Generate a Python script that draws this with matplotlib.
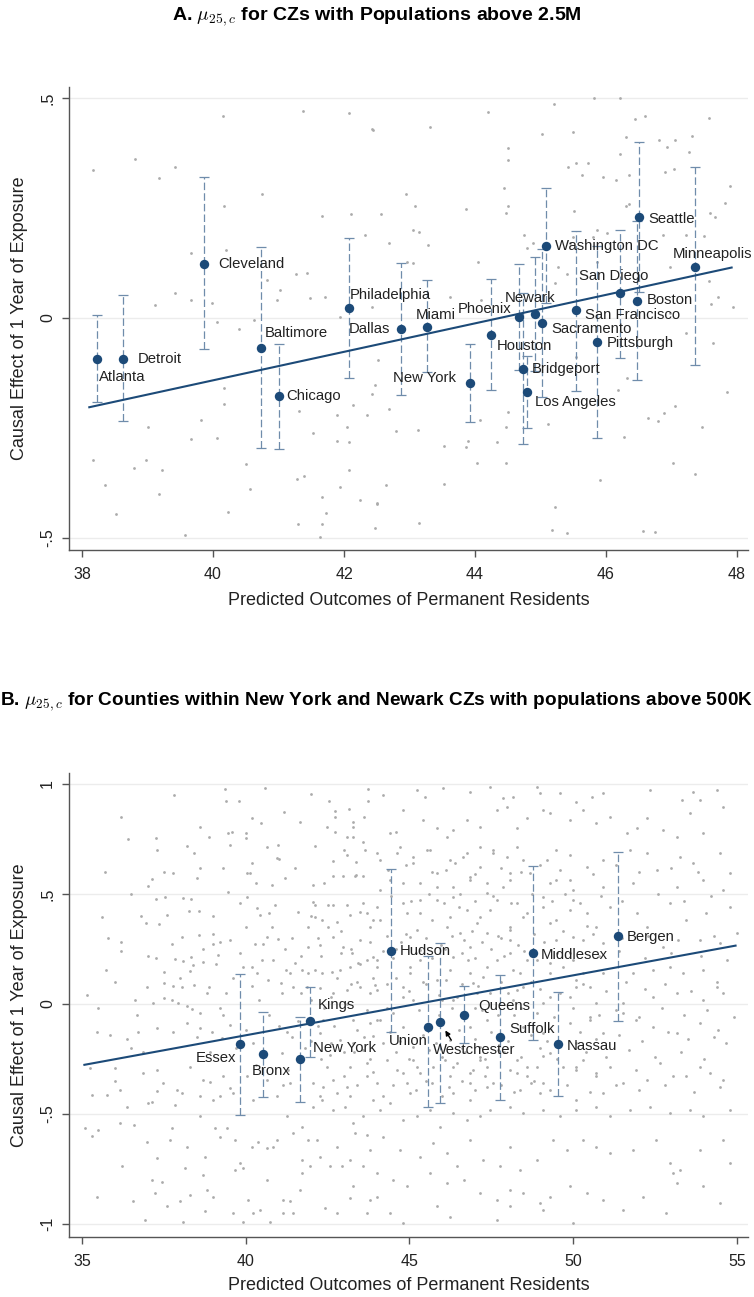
import numpy as np
import matplotlib
matplotlib.use("Agg")
import matplotlib.pyplot as plt

plt.rcParams["font.family"] = ["Liberation Sans", "DejaVu Sans"]
plt.rcParams["mathtext.fontset"] = "cm"

NAVY = "#1c4a78"
BAR = "#6f8cab"
DOT = "#ababab"
SPINE = "#555555"
GRID = "#ececec"
TEXT = "#222222"

# ---- Panel A: commuting zones above 2.5M ----
cz_names = ["Atlanta", "Detroit", "Cleveland", "Baltimore", "Chicago", "Philadelphia",
            "Dallas", "Miami", "New York", "Houston", "Phoenix", "Bridgeport",
            "Los Angeles", "Newark", "Sacramento", "Washington DC", "San Francisco",
            "Pittsburgh", "San Diego", "Boston", "Seattle", "Minneapolis"]
cz_x = [38.23, 38.62, 39.86, 40.73, 41.00, 42.07, 42.87, 43.26, 43.92, 44.24, 44.68, 44.73,
        44.79, 44.91, 45.02, 45.09, 45.54, 45.87, 46.22, 46.48, 46.51, 47.36]
cz_y = [-0.093, -0.093, 0.124, -0.068, -0.178, 0.023, -0.026, -0.020, -0.147, -0.039, 0.002,
        -0.115, -0.169, 0.009, -0.011, 0.165, 0.018, -0.055, 0.056, 0.039, 0.231, 0.117]
cz_lo = [-0.191, -0.234, -0.071, -0.295, -0.298, -0.137, -0.175, -0.122, -0.236, -0.164,
         -0.118, -0.287, -0.251, -0.120, -0.179, 0.035, -0.166, -0.274, -0.092, -0.141,
         0.060, -0.107]
cz_hi = [0.007, 0.052, 0.320, 0.162, -0.060, 0.183, 0.126, 0.086, -0.060, 0.090, 0.122,
         0.057, -0.087, 0.138, 0.157, 0.295, 0.198, 0.164, 0.200, 0.220, 0.400, 0.345]
fit_a_x = [38.11, 47.92]
fit_a_y = [-0.203, 0.115]

bg_a = [
    (40.15, 0.46), (41.37, 0.472), (42.07, 0.466), (42.42, 0.43), (38.16, 0.337), (38.81, 0.362),
    (39.42, 0.343), (39.17, 0.318), (40.75, 0.282), (40.17, 0.254), (41.67, 0.233), (42.10, 0.238),
    (42.32, 0.189), (39.67, 0.149), (40.20, 0.156), (41.26, 0.100), (41.44, 0.103), (40.82, 0.087),
    (41.02, 0.065), (40.97, 0.041), (41.48, 0.045), (41.71, 0.049), (39.42, 0.058), (39.11, 0.030),
    (39.66, 0.040), (39.99, 0.035), (40.06, -0.008), (40.40, -0.024), (40.62, -0.005), (41.94, 0.003),
    (42.42, 0.026), (44.20, 0.470), (45.20, 0.487), (45.82, 0.500), (46.21, 0.500), (43.31, 0.436),
    (42.44, 0.428), (45.03, 0.419), (45.49, 0.424), (46.45, 0.453), (46.60, 0.460), (47.58, 0.455),
    (44.51, 0.387), (44.51, 0.360), (46.31, 0.412), (46.81, 0.405), (47.05, 0.405), (47.32, 0.415),
    (46.93, 0.390), (47.27, 0.379), (46.21, 0.373), (45.42, 0.343), (45.55, 0.354), (45.73, 0.354),
    (45.63, 0.326), (45.96, 0.320), (46.16, 0.314), (46.36, 0.326), (46.90, 0.333), (47.04, 0.339),
    (47.89, 0.300), (42.95, 0.282), (44.45, 0.295), (43.08, 0.255), (43.87, 0.248), (44.48, 0.240),
    (44.51, 0.254), (42.56, 0.238), (45.51, 0.244), (46.30, 0.255), (46.36, 0.260), (47.59, 0.240),
    (47.66, 0.231), (47.82, 0.263), (43.05, 0.200), (43.15, 0.197), (42.69, 0.172), (43.29, 0.166),
    (44.75, 0.189), (44.79, 0.159), (44.89, 0.170), (45.50, 0.185), (45.45, 0.170), (45.80, 0.185),
    (45.87, 0.200), (46.02, 0.193), (46.87, 0.190), (47.23, 0.189), (46.66, 0.170), (47.50, 0.187),
    (44.05, 0.128), (45.27, 0.117), (45.86, 0.127), (46.98, 0.117), (47.58, 0.084), (43.06, 0.126),
    (42.96, 0.128), (45.40, 0.100), (45.22, 0.079), (43.62, 0.049), (44.09, 0.041), (47.71, 0.049),
    (47.61, 0.032), (47.94, 0.026), (46.98, 0.011),
    (38.17, -0.323), (38.35, -0.380), (38.52, -0.446), (38.80, -0.342), (38.97, -0.323),
    (39.22, -0.346), (39.18, -0.400), (39.00, -0.248), (39.57, -0.493), (39.66, -0.276),
    (39.82, -0.232), (40.06, -0.274), (40.17, -0.159), (40.17, -0.196), (40.23, -0.441),
    (40.51, -0.333), (40.56, -0.390), (41.29, -0.468), (41.28, -0.366), (41.39, -0.360),
    (41.53, -0.261), (41.32, -0.211), (41.66, -0.407), (41.73, -0.443), (41.67, -0.468),
    (41.64, -0.498), (41.89, -0.221), (42.04, -0.249), (41.89, -0.279), (42.08, -0.283),
    (42.08, -0.346), (41.94, -0.384), (42.24, -0.415), (42.35, -0.221), (42.42, -0.172),
    (42.50, -0.422), (42.47, -0.479), (42.14, -0.198), (42.68, -0.206), (42.80, -0.257),
    (43.13, -0.255), (42.47, -0.153), (42.52, -0.096), (43.52, -0.292), (43.87, -0.293),
    (43.89, -0.279), (44.03, -0.331), (44.47, -0.331), (43.52, -0.377), (42.64, -0.380),
    (42.51, -0.424), (43.15, -0.466), (44.33, -0.282), (44.48, -0.248), (44.51, -0.213),
    (45.12, -0.242), (45.22, -0.431), (45.17, -0.483), (45.40, -0.490), (45.91, -0.369),
    (46.27, -0.270), (46.65, -0.228), (46.80, -0.234), (46.88, -0.215), (47.05, -0.200),
    (47.46, -0.248), (47.03, -0.331), (47.36, -0.354), (47.85, -0.168), (46.57, -0.485),
    (46.75, -0.487), (46.19, -0.164), (46.32, -0.137), (45.55, -0.088), (45.45, -0.118),
    (47.23, -0.035), (47.64, -0.056), (44.08, -0.232),
]

# ---- Panel B: counties in the New York and Newark CZs ----
county_names = ["Essex", "Bronx", "New York", "Kings", "Hudson", "Union", "Westchester",
                "Queens", "Suffolk", "Middlesex", "Nassau", "Bergen"]
county_x = [39.82, 40.54, 41.66, 41.96, 44.45, 45.58, 45.94, 46.65, 47.78, 48.78, 49.54, 51.36]
county_y = [-0.183, -0.229, -0.250, -0.080, 0.242, -0.103, -0.083, -0.050, -0.152, 0.230,
            -0.182, 0.308]
county_lo = [-0.506, -0.424, -0.444, -0.242, -0.130, -0.467, -0.449, -0.180, -0.436, -0.164,
             -0.421, -0.080]
county_hi = [0.135, -0.035, -0.058, 0.076, 0.614, 0.220, 0.277, 0.080, 0.132, 0.627, 0.055, 0.693]
fit_b_x = [35.07, 54.96]
fit_b_y = [-0.277, 0.265]

bg_b = [
    (39.37, 0.977), (39.40, 0.924), (39.79, 0.924), (41.98, 0.955), (42.55, 0.924), (43.74, 0.977),
    (43.74, 0.924), (41.17, 0.874), (41.66, 0.829), (42.73, 0.879), (42.73, 0.849), (43.16, 0.886),
    (40.18, 0.844), (40.47, 0.821), (38.60, 0.803), (38.89, 0.758), (36.41, 0.749), (37.26, 0.753),
    (37.28, 0.700), (39.45, 0.776), (39.59, 0.783), (40.01, 0.779), (40.01, 0.753), (39.52, 0.723),
    (40.64, 0.715), (40.99, 0.723), (41.02, 0.659), (42.47, 0.803), (42.73, 0.783), (43.08, 0.761),
    (43.27, 0.761), (43.28, 0.803), (43.28, 0.829), (42.67, 0.650), (43.08, 0.677), (43.37, 0.647),
    (43.64, 0.700), (43.59, 0.738), (38.43, 0.685), (40.18, 0.642), (40.03, 0.597), (40.13, 0.597),
    (37.79, 0.594), (38.52, 0.571), (37.02, 0.538), (37.13, 0.567), (35.60, 0.394), (37.25, 0.476),
    (37.53, 0.485), (38.09, 0.480), (38.32, 0.476), (36.95, 0.367), (37.36, 0.364), (37.59, 0.405),
    (38.28, 0.424), (38.58, 0.424), (39.47, 0.510), (39.82, 0.458), (40.03, 0.488), (40.33, 0.435),
    (40.44, 0.405), (40.72, 0.412), (40.79, 0.541), (41.20, 0.571), (40.95, 0.662), (42.11, 0.450),
    (42.32, 0.382), (42.65, 0.450), (43.08, 0.450), (43.37, 0.586), (43.59, 0.458), (42.67, 0.582),
    (42.98, 0.582), (43.34, 0.582), (43.59, 0.582), (42.06, 0.541), (42.06, 0.465), (35.14, 0.041),
    (35.50, -0.017), (35.73, 0.155), (36.18, 0.283), (36.18, 0.241), (36.62, 0.018), (36.69, -0.050),
    (37.16, 0.003), (36.98, 0.079), (37.50, 0.094), (37.26, 0.208), (37.50, 0.147), (37.74, 0.273),
    (37.84, 0.203), (38.07, 0.197), (38.32, 0.212), (38.04, 0.306), (38.58, 0.314), (38.38, 0.177),
    (38.70, 0.192), (39.01, 0.318), (39.21, 0.283), (37.77, 0.082), (38.04, 0.076), (38.42, 0.086),
    (38.89, 0.079), (37.51, 0.029), (37.74, 0.018), (37.94, 0.003), (38.20, -0.009), (38.35, -0.024),
    (38.60, -0.042), (39.01, 0.273), (39.16, 0.223), (39.52, 0.291), (39.82, 0.230), (40.28, 0.273),
    (40.54, 0.273), (40.64, 0.306), (40.99, 0.294), (40.82, 0.200), (41.23, 0.155), (41.35, 0.142),
    (40.18, 0.170), (40.35, 0.139), (40.69, 0.109), (41.08, 0.094), (41.50, 0.185), (41.71, 0.155),
    (41.91, 0.139), (42.11, 0.155), (42.32, 0.139), (42.62, 0.147), (42.88, 0.155), (43.18, 0.170),
    (43.44, 0.185), (43.69, 0.200), (43.90, 0.215), (41.91, 0.260), (42.27, 0.268), (42.67, 0.306),
    (42.98, 0.260), (43.24, 0.230), (43.49, 0.291), (43.79, 0.351), (42.11, 0.397), (42.52, 0.351),
    (42.78, 0.374), (43.18, 0.405), (43.69, 0.412), (43.90, 0.382), (41.45, 0.079), (41.86, 0.079),
    (42.27, 0.071), (42.67, 0.049), (43.08, 0.064), (43.49, 0.079), (43.95, 0.086),
    (35.45, -0.130), (35.85, -0.141), (36.36, -0.160), (36.72, -0.130), (36.87, -0.217),
    (37.28, -0.110), (37.79, -0.126), (38.20, -0.088), (38.60, -0.110), (38.96, -0.126),
    (39.27, -0.156), (39.52, -0.095), (35.24, -0.292), (36.01, -0.292), (36.87, -0.315),
    (37.28, -0.300), (37.48, -0.361), (37.89, -0.391), (38.30, -0.285), (38.70, -0.345),
    (38.91, -0.353), (39.31, -0.330), (39.52, -0.383), (35.30, -0.414), (35.75, -0.414),
    (36.16, -0.391), (36.36, -0.467), (37.13, -0.444), (37.28, -0.398), (37.84, -0.459),
    (38.04, -0.406), (38.60, -0.421), (39.01, -0.436), (39.21, -0.421), (39.62, -0.406),
    (35.09, -0.565), (35.50, -0.573), (36.16, -0.542), (36.97, -0.630), (37.74, -0.565),
    (37.69, -0.618), (38.20, -0.649), (38.60, -0.512), (38.76, -0.694), (39.06, -0.565),
    (39.21, -0.603), (39.42, -0.565), (39.67, -0.618), (39.82, -0.724), (40.18, -0.649),
    (40.38, -0.626), (40.64, -0.656), (40.84, -0.649), (40.95, -0.618), (36.21, -0.736),
    (36.57, -0.898), (37.13, -0.800), (37.23, -0.861), (37.43, -0.808), (37.99, -0.898),
    (38.15, -0.747), (38.30, -0.868), (38.70, -0.777), (38.81, -0.845), (39.67, -0.755),
    (39.93, -0.747), (40.08, -0.891), (35.45, -0.876), (36.92, -0.982), (37.59, -0.918),
    (38.09, -0.990), (38.76, -0.944), (39.01, -0.876), (39.62, -0.951), (39.93, -0.990),
    (40.23, -0.951), (40.44, -0.936), (40.64, -0.800), (41.15, -0.891), (41.35, -0.898),
    (41.45, -0.951), (41.66, -0.845), (41.71, -0.770), (41.71, -0.709), (41.96, -0.739),
    (42.17, -0.618), (42.27, -0.694), (42.57, -0.739), (42.78, -0.649), (42.93, -0.739),
    (43.18, -0.709), (43.28, -0.830), (43.59, -0.739), (43.69, -0.951), (43.79, -0.891),
    (44.00, -0.770), (44.00, -0.876), (40.74, -0.990), (41.15, -0.951), (42.42, -0.929),
    (42.78, -0.951), (43.18, -0.883), (41.25, -0.512), (41.71, -0.558), (42.06, -0.467),
    (42.32, -0.436), (42.67, -0.482), (43.03, -0.467), (43.28, -0.542), (43.59, -0.512),
    (43.90, -0.436), (41.45, -0.588), (41.91, -0.618), (43.34, -0.588), (43.69, -0.595),
    (43.79, -0.664), (40.03, -0.330), (40.64, -0.345), (41.15, -0.368), (41.35, -0.361),
    (42.06, -0.361), (42.37, -0.376), (42.67, -0.345), (43.08, -0.376), (43.39, -0.368),
    (43.69, -0.330), (44.00, -0.361), (40.23, -0.436), (40.95, -0.421), (42.27, -0.421),
    (42.78, -0.406), (43.18, -0.421), (40.23, -0.179), (41.10, -0.224), (42.27, -0.133),
    (42.57, -0.232), (42.88, -0.164), (43.28, -0.179), (43.59, -0.209), (43.90, -0.148),
    (41.25, -0.126), (42.37, -0.073), (43.28, -0.073), (43.79, -0.088), (42.47, -0.285),
    (43.18, -0.285), (43.69, -0.270),
    (44.00, -0.073), (44.20, -0.179), (44.61, -0.300), (44.91, -0.361), (45.12, -0.255),
    (45.32, -0.315), (45.73, -0.285), (46.08, -0.255), (46.24, -0.330), (46.44, -0.270),
    (46.85, -0.361), (46.95, -0.300), (47.15, -0.240), (47.36, -0.285), (47.56, -0.361),
    (48.07, -0.300), (48.27, -0.255), (48.58, -0.330), (48.88, -0.285), (49.09, -0.361),
    (49.29, -0.224), (49.70, -0.285), (50.10, -0.300), (50.31, -0.255), (50.71, -0.330),
    (51.12, -0.285), (51.53, -0.361), (51.93, -0.300), (52.24, -0.345), (52.65, -0.270),
    (53.05, -0.330), (53.46, -0.330), (53.87, -0.285), (54.17, -0.315), (54.58, -0.345),
    (54.68, -0.179), (54.43, -0.118), (53.87, -0.088), (53.16, -0.133), (52.44, -0.103),
    (51.93, -0.073), (51.53, -0.042), (50.92, -0.133), (50.51, -0.073), (50.10, -0.179),
    (44.10, -0.482), (44.40, -0.452), (44.81, -0.527), (45.22, -0.512), (45.63, -0.482),
    (45.93, -0.558), (46.34, -0.497), (46.75, -0.527), (47.15, -0.512), (47.46, -0.482),
    (48.07, -0.467), (48.47, -0.497), (49.09, -0.482), (49.60, -0.512), (50.10, -0.482),
    (50.71, -0.467), (51.12, -0.512), (51.73, -0.482), (52.34, -0.467), (52.95, -0.497),
    (53.56, -0.482), (53.97, -0.512), (54.79, -0.482), (44.20, -0.603), (44.71, -0.664),
    (45.32, -0.694), (45.73, -0.633), (46.14, -0.679), (46.44, -0.739), (46.85, -0.618),
    (47.26, -0.709), (47.77, -0.739), (48.07, -0.649), (48.38, -0.755), (48.88, -0.709),
    (49.39, -0.618), (49.80, -0.664), (50.31, -0.618), (50.71, -0.649), (51.12, -0.679),
    (51.83, -0.664), (52.54, -0.618), (52.95, -0.724), (53.26, -0.755), (53.87, -0.664),
    (54.58, -0.618), (54.79, -0.724), (44.51, -0.800), (44.91, -0.830), (45.63, -0.770),
    (46.14, -0.815), (46.65, -0.800), (47.15, -0.861), (47.66, -0.891), (48.07, -0.845),
    (48.47, -0.861), (48.98, -0.906), (49.29, -0.876), (49.90, -0.830), (50.41, -0.861),
    (50.92, -0.891), (51.53, -0.936), (52.14, -0.876), (52.85, -0.951), (53.05, -0.770),
    (53.16, -0.815), (54.48, -0.906), (53.97, -0.830), (44.40, -0.951), (44.81, -0.997),
    (45.83, -0.921), (46.24, -0.967), (47.66, -0.982), (48.07, -0.921), (49.09, -0.936),
    (50.00, -0.997),
    (45.22, 0.973), (45.47, 0.942), (46.03, 0.980), (46.85, 0.965), (47.46, 0.988), (47.86, 0.935),
    (48.17, 0.942), (48.88, 0.988), (48.98, 0.958), (49.60, 0.958), (50.10, 0.920), (50.56, 0.942),
    (50.92, 0.958), (52.34, 0.973), (53.67, 0.965), (54.38, 0.973), (53.31, 0.927), (53.87, 0.927),
    (44.81, 0.882), (45.42, 0.836), (45.83, 0.798), (46.34, 0.791), (46.75, 0.836), (47.15, 0.806),
    (47.66, 0.882), (47.97, 0.897), (48.58, 0.844), (49.09, 0.882), (49.29, 0.867), (49.90, 0.836),
    (50.31, 0.882), (50.71, 0.821), (51.12, 0.851), (51.63, 0.776), (51.94, 0.798), (52.24, 0.844),
    (52.75, 0.791), (53.16, 0.761), (53.56, 0.867), (53.97, 0.776), (54.58, 0.897), (44.40, 0.776),
    (46.14, 0.761), (48.27, 0.798), (44.00, 0.685), (44.71, 0.715), (45.12, 0.670), (45.63, 0.700),
    (46.24, 0.655), (46.75, 0.685), (47.15, 0.715), (47.56, 0.700), (47.97, 0.670), (48.27, 0.715),
    (48.68, 0.594), (49.19, 0.655), (49.49, 0.700), (49.90, 0.677), (50.41, 0.624), (50.92, 0.655),
    (51.73, 0.700), (52.24, 0.685), (52.55, 0.609), (53.26, 0.670), (53.67, 0.639), (54.48, 0.685),
    (54.79, 0.594), (44.40, 0.564), (45.32, 0.549), (45.83, 0.594), (46.34, 0.533), (46.85, 0.579),
    (47.36, 0.549), (48.07, 0.564), (49.29, 0.549), (49.90, 0.564), (50.92, 0.533), (51.83, 0.549),
    (53.16, 0.533), (53.97, 0.564), (54.58, 0.518), (44.00, 0.442), (44.81, 0.458), (45.32, 0.412),
    (45.83, 0.473), (46.14, 0.351), (46.75, 0.427), (47.15, 0.397), (47.66, 0.473), (48.07, 0.351),
    (48.58, 0.412), (49.09, 0.442), (49.49, 0.382), (50.00, 0.473), (50.41, 0.412), (50.71, 0.351),
    (51.12, 0.442), (51.94, 0.412), (52.24, 0.351), (52.95, 0.458), (53.46, 0.382), (54.07, 0.412),
    (54.79, 0.442), (45.02, 0.306), (46.65, 0.291), (47.36, 0.321), (48.07, 0.291), (49.49, 0.291),
    (50.00, 0.306), (50.92, 0.276), (52.75, 0.260), (53.87, 0.291), (54.48, 0.276), (54.99, 0.321),
    (44.00, 0.170), (45.02, 0.139), (45.32, 0.200), (45.83, 0.109), (46.24, 0.155), (46.85, 0.139),
    (47.26, 0.124), (47.66, 0.200), (48.17, 0.155), (48.47, 0.079), (49.29, 0.139), (49.70, 0.170),
    (50.10, 0.109), (50.51, 0.079), (50.92, 0.139), (51.83, 0.139), (52.44, 0.155), (52.95, 0.170),
    (53.36, 0.139), (53.97, 0.155), (54.38, 0.079), (44.81, 0.033), (46.34, 0.018), (47.05, 0.049),
    (48.17, 0.018), (49.09, 0.003), (49.90, 0.033), (50.71, 0.003), (51.53, 0.003), (52.44, 0.033),
    (53.16, 0.049), (53.97, 0.018), (54.58, 0.049),
    (44.10, 0.655), (44.61, 0.685), (45.12, 0.639), (45.52, 0.700), (46.13, 0.609), (46.64, 0.670),
    (47.15, 0.624), (47.56, 0.685), (48.07, 0.594), (48.48, 0.655), (44.10, 0.518), (44.81, 0.548),
    (45.32, 0.473), (45.83, 0.533), (46.34, 0.488), (46.85, 0.564), (47.36, 0.503), (47.87, 0.533),
    (48.27, 0.458), (49.09, 0.488), (49.49, 0.564), (50.00, 0.518), (44.10, 0.382), (44.91, 0.412),
    (45.22, 0.336), (46.24, 0.397), (46.54, 0.321), (47.05, 0.367), (47.46, 0.427), (48.07, 0.336),
    (48.48, 0.397), (49.29, 0.367), (49.90, 0.427), (50.41, 0.352), (44.00, 0.200), (45.02, 0.170),
    (45.32, 0.245), (46.34, 0.215), (46.85, 0.261), (47.36, 0.170), (48.07, 0.230), (48.37, 0.139),
    (49.29, 0.185), (49.90, 0.230), (50.31, 0.139), (44.00, 0.064), (44.81, 0.079), (45.12, 0.018),
    (46.13, 0.109), (46.44, 0.033), (46.95, 0.094), (47.46, 0.048), (48.27, 0.064), (49.29, 0.033),
    (50.10, 0.079), (44.10, -0.073), (44.81, -0.103), (45.12, -0.194), (46.24, -0.164),
    (46.85, -0.103), (47.15, -0.194), (47.36, -0.073), (48.48, -0.103), (49.09, -0.133),
    (49.90, -0.088), (50.51, -0.058), (44.30, -0.255), (44.81, -0.315), (45.22, -0.285),
    (46.34, -0.285), (46.85, -0.315), (47.15, -0.255), (48.27, -0.315), (48.58, -0.285),
    (49.09, -0.239), (50.10, -0.285), (50.71, -0.315), (44.20, -0.421), (45.02, -0.406),
    (46.34, -0.406), (46.85, -0.436), (47.36, -0.376), (48.37, -0.391), (48.98, -0.406),
    (50.10, -0.436), (50.92, -0.406),
    (41.60, 0.420), (41.90, 0.350), (42.20, 0.300), (42.50, 0.450), (42.90, 0.330), (43.20, 0.250),
    (43.50, 0.420), (43.80, 0.280), (41.70, 0.050), (42.00, 0.020), (42.40, -0.020), (42.80, 0.120),
    (43.10, 0.000), (43.40, 0.100), (43.70, -0.030), (43.90, 0.120), (41.40, -0.150), (41.80, -0.200),
    (42.20, -0.100), (42.60, -0.180), (43.00, -0.220), (43.40, -0.120), (43.80, -0.250),
    (44.30, -0.020), (44.60, 0.250), (44.90, 0.320), (45.40, 0.100), (45.70, 0.380), (46.00, 0.020),
    (46.50, 0.440), (46.80, 0.200), (47.00, -0.020), (47.80, 0.300), (48.20, -0.050), (48.60, 0.200),
    (45.50, -0.350), (46.00, -0.420), (46.60, -0.200), (47.30, -0.330), (47.90, -0.220),
    (48.80, -0.350), (38.80, 0.050), (39.20, -0.020), (39.60, 0.120), (40.00, 0.350), (40.40, 0.020),
    (40.90, 0.450), (41.20, 0.250), (39.00, 0.400), (38.00, 0.120), (37.00, 0.220), (36.50, 0.500),
    (36.00, -0.350), (35.70, 0.600), (35.30, -0.600), (36.20, 0.850), (37.80, 0.950), (38.60, 0.620),
    (40.60, 0.980), (42.10, 0.720), (44.20, 0.950), (44.60, 0.780),
    (44.35, 0.61), (44.90, 0.63), (45.70, 0.60), (46.40, 0.64), (47.00, 0.59), (47.80, 0.62),
    (48.40, 0.60), (49.00, 0.63), (49.60, 0.61), (50.60, 0.59), (51.30, 0.63), (52.00, 0.60),
    (53.00, 0.62), (53.80, 0.60), (44.45, 0.49), (45.05, 0.47), (45.60, 0.50), (46.05, 0.46),
    (46.55, 0.50), (47.00, 0.47), (47.55, 0.49), (48.10, 0.46), (48.75, 0.50), (49.35, 0.47),
    (49.75, 0.50), (50.20, 0.46), (50.85, 0.49), (51.50, 0.47), (52.60, 0.50), (53.40, 0.47),
    (54.20, 0.49), (44.30, 0.31), (44.75, 0.28), (45.50, 0.30), (45.95, 0.27), (46.30, 0.31),
    (46.90, 0.33), (47.20, 0.28), (47.70, 0.31), (48.30, 0.27), (48.80, 0.32), (49.10, 0.28),
    (49.70, 0.33), (50.30, 0.29), (50.60, 0.32), (51.50, 0.30), (52.30, 0.31), (53.20, 0.29),
    (54.30, 0.31), (44.20, 0.24), (44.50, 0.21), (45.20, 0.23), (45.70, 0.21), (46.10, 0.25),
    (46.60, 0.23), (47.00, 0.21), (47.50, 0.25), (47.90, 0.22), (48.50, 0.24), (48.90, 0.20),
    (49.50, 0.23), (50.00, 0.20), (50.80, 0.22), (51.40, 0.24), (52.20, 0.21), (53.00, 0.23),
    (53.90, 0.22), (54.70, 0.20), (44.30, 0.09), (44.60, 0.12), (45.00, 0.06), (45.50, 0.09),
    (45.90, 0.04), (46.60, 0.09), (47.10, 0.08), (47.80, 0.10), (48.00, 0.05), (48.70, 0.10),
    (49.00, 0.07), (49.60, 0.05), (50.30, 0.09), (51.00, 0.06), (51.60, 0.10), (52.20, 0.07),
    (52.80, 0.09), (53.60, 0.06), (54.40, 0.10), (44.50, -0.04), (45.30, -0.03), (45.90, -0.05),
    (46.30, -0.02), (47.20, -0.03), (47.70, -0.05), (48.40, -0.02), (48.90, -0.04), (49.40, -0.06),
    (50.00, -0.02), (50.80, -0.05), (51.30, -0.03), (52.00, -0.06), (52.70, -0.02), (53.40, -0.05),
    (54.10, -0.03), (54.90, -0.06), (44.40, -0.13), (44.70, -0.17), (45.40, -0.14), (45.80, -0.18),
    (46.50, -0.12), (47.00, -0.16), (47.50, -0.13), (48.00, -0.17), (48.70, -0.14), (49.20, -0.17),
    (50.20, -0.13), (50.70, -0.16), (51.40, -0.14), (52.10, -0.17), (52.90, -0.13), (53.50, -0.16),
    (54.30, -0.15), (44.60, -0.22), (45.00, -0.25), (45.60, -0.21), (46.00, -0.24), (46.70, -0.22),
    (47.30, -0.25), (47.70, -0.21), (48.40, -0.24), (49.00, -0.20), (49.50, -0.25), (50.40, -0.22),
    (51.00, -0.24), (51.70, -0.21), (52.50, -0.24), (53.30, -0.22), (54.00, -0.25), (44.50, -0.37),
    (45.20, -0.39), (45.70, -0.36), (46.20, -0.38), (46.60, -0.35), (47.00, -0.39), (47.80, -0.37),
    (48.20, -0.40), (48.70, -0.36), (49.30, -0.39), (49.80, -0.37), (50.50, -0.40), (51.30, -0.37),
    (52.00, -0.39), (52.80, -0.37), (53.70, -0.40), (54.50, -0.38), (38.30, 0.15), (38.70, 0.25),
    (39.10, 0.18), (39.40, 0.05), (39.90, 0.17), (40.20, 0.08), (40.50, 0.20), (40.80, 0.35),
    (41.10, 0.05), (41.40, 0.30), (41.70, 0.22), (42.00, 0.40), (42.30, 0.22), (42.60, 0.03),
    (42.90, 0.23), (43.20, 0.09), (43.50, 0.18), (43.80, 0.05), (38.50, -0.15), (38.90, -0.22),
    (39.30, -0.05), (39.70, -0.20), (40.00, -0.12), (40.30, -0.28), (40.70, -0.05), (41.00, -0.10),
    (41.30, -0.30), (41.60, -0.08), (42.00, -0.17), (42.30, -0.25), (42.70, -0.10), (43.00, -0.33),
    (43.30, -0.22), (43.60, -0.15), (43.90, -0.31), (36.80, 0.40), (37.50, 0.60), (38.20, 0.72),
    (39.30, 0.62), (40.30, 0.55), (41.50, 0.62), (42.40, 0.55), (43.00, 0.70), (43.60, 0.85),
    (36.00, 0.10), (36.50, -0.20), (37.00, -0.45), (35.80, 0.30), (37.30, -0.70), (36.60, -0.55),
]

# label offsets in pixels relative to each point: (dx, dy, horizontal alignment)
cz_label_pos = {
    "Atlanta": (2, -18, "left"), "Detroit": (15, 0, "left"), "Cleveland": (14, 0, "left"),
    "Baltimore": (4, 15, "left"), "Chicago": (8, 0, "left"), "Philadelphia": (1, 13, "left"),
    "Dallas": (-11, 0, "right"), "Miami": (9, 12, "center"), "New York": (-14, 5, "right"),
    "Houston": (6, -11, "left"), "Phoenix": (-8, 8, "right"), "Bridgeport": (9, 0, "left"),
    "Los Angeles": (8, -10, "left"), "Newark": (-4, 16, "center"), "Sacramento": (10, -6, "left"),
    "Washington DC": (9, 0, "left"), "San Francisco": (9, -5, "left"), "Pittsburgh": (9, -1, "left"),
    "San Diego": (-7, 17, "center"), "Boston": (9, 1, "left"), "Seattle": (9, -2, "left"),
    "Minneapolis": (18, 13, "center"),
}
county_label_pos = {
    "Essex": (-4, -14, "right"), "Bronx": (8, -17, "center"), "New York": (13, 11, "left"),
    "Kings": (8, 16, "left"), "Hudson": (8, 0, "left"), "Union": (-1, -14, "right"),
    "Westchester": (-7, -28, "left"), "Queens": (15, 9, "left"), "Suffolk": (9, 8, "left"),
    "Middlesex": (8, -2, "left"), "Nassau": (9, -2, "left"), "Bergen": (9, -1, "left"),
}


def style_axes(ax, xticks, yticks, yticklabels):
    for side in ("top", "right"):
        ax.spines[side].set_visible(False)
    for side in ("left", "bottom"):
        ax.spines[side].set_color(SPINE)
        ax.spines[side].set_linewidth(1.0)
    ax.set_xticks(xticks)
    ax.set_xticklabels([str(t) for t in xticks])
    ax.set_yticks(yticks)
    ax.set_yticklabels(yticklabels, rotation=90, va="center")
    ax.tick_params(direction="out", length=5, width=1, color=SPINE, labelsize=11.5,
                   labelcolor=TEXT)
    ax.tick_params(axis="x", pad=7)
    ax.tick_params(axis="y", pad=5)
    ax.grid(axis="y", color=GRID, lw=1.0)
    ax.set_axisbelow(True)
    ax.set_xlabel("Predicted Outcomes of Permanent Residents", fontsize=13, color=TEXT)
    ax.set_ylabel("Causal Effect of 1 Year of Exposure", fontsize=13, color=TEXT)
    ax.yaxis.set_label_coords(-0.060, 0.5)


def draw_panel(ax, bg, names, x, y, lo, hi, fit_x, fit_y, label_pos):
    bx, by = zip(*bg)
    ax.scatter(bx, by, s=4, color=DOT, lw=0, zorder=1)
    x = np.asarray(x)
    y = np.asarray(y)
    yerr = [y - np.asarray(lo), np.asarray(hi) - y]
    eb = ax.errorbar(x, y, yerr=yerr, fmt="none", ecolor=BAR, elinewidth=0.9,
                     capsize=3.6, capthick=0.9, zorder=2)
    eb[2][0].set_linestyle((0, (6, 2.5)))
    ax.plot(fit_x, fit_y, color=NAVY, lw=1.5, zorder=3)
    ax.scatter(x, y, s=46, color=NAVY, lw=0, zorder=4)
    for name, xv, yv in zip(names, x, y):
        dx, dy, ha = label_pos[name]
        ax.annotate(name, (xv, yv), xytext=(dx, dy), textcoords="offset pixels",
                    ha=ha, va="center", fontsize=10.7, color=TEXT, zorder=5)


fig = plt.figure(figsize=(7.54, 12.97), dpi=100)
W, H = 754, 1297

ax_a = fig.add_axes([69 / W, (H - 550) / H, 679 / W, 463 / H])
draw_panel(ax_a, bg_a, cz_names, cz_x, cz_y, cz_lo, cz_hi, fit_a_x, fit_a_y, cz_label_pos)
ax_a.set_xlim(37.80, 48.17)
ax_a.set_ylim(-0.528, 0.526)
style_axes(ax_a, [38, 40, 42, 44, 46, 48], [-0.5, 0, 0.5], ["-.5", "0", ".5"])
ax_a.xaxis.set_label_coords(0.5, -0.090)

ax_b = fig.add_axes([69 / W, (H - 1237) / H, 679 / W, 464 / H])
draw_panel(ax_b, bg_b, county_names, county_x, county_y, county_lo, county_hi,
           fit_b_x, fit_b_y, county_label_pos)
ax_b.set_xlim(34.6, 55.34)
ax_b.set_ylim(-1.06, 1.05)
style_axes(ax_b, [35, 40, 45, 50, 55], [-1, -0.5, 0, 0.5, 1], ["-1", "-.5", "0", ".5", "1"])
ax_b.xaxis.set_label_coords(0.5, -0.086)

# small pointer from the Westchester label to its marker
wi = county_names.index("Westchester")
ax_b.annotate("", (county_x[wi], county_y[wi]), xytext=(11, -18), textcoords="offset pixels",
              arrowprops=dict(arrowstyle="-|>", color="black", lw=1.0, mutation_scale=7,
                              shrinkA=0, shrinkB=7), zorder=5)

fig.text(0.5, 1 - 17 / H, r"A. $\mu_{25,c}$ for CZs with Populations above 2.5M",
         ha="center", va="center", fontsize=14, fontweight="bold", color="black")
fig.text(0.5, 1 - 702 / H,
         r"B. $\mu_{25,c}$ for Counties within New York and Newark CZs with populations above 500K",
         ha="center", va="center", fontsize=13.7, fontweight="bold", color="black")

fig.savefig("out.png", dpi=100, facecolor="white")
